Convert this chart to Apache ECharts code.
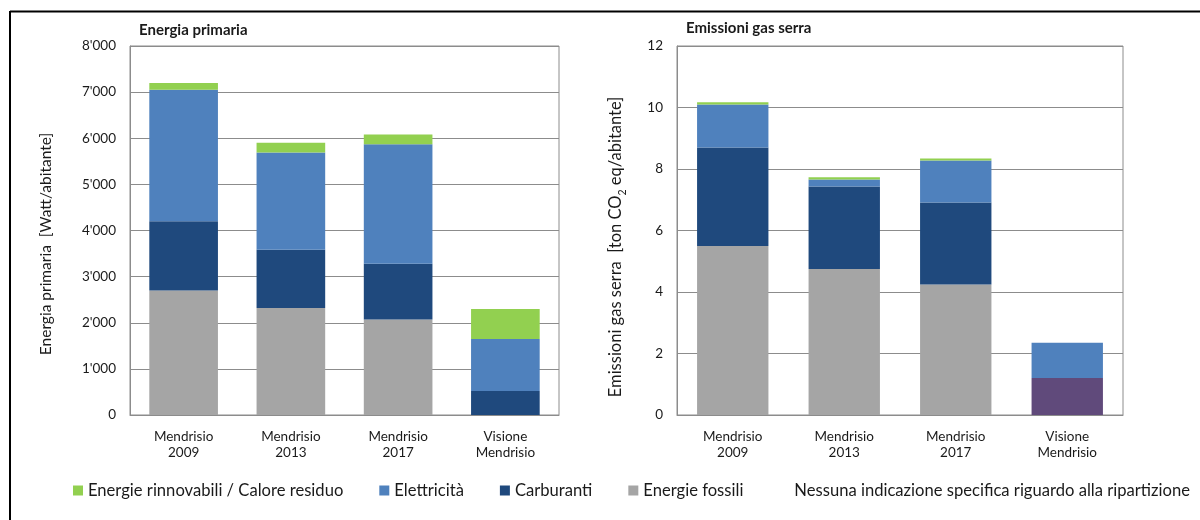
<!DOCTYPE html>
<html>
<head>
<meta charset="utf-8">
<script src="https://cdn.jsdelivr.net/npm/echarts@6/dist/echarts.min.js"></script>
<style>
  html, body { margin: 0; padding: 0; background: #fff; }
  #chart { width: 1200px; height: 520px; }
</style>
</head>
<body>
<div id="chart"></div>
<script>
// Categories shared by both panels
const categories = ['Mendrisio\n2009', 'Mendrisio\n2013', 'Mendrisio\n2017', 'Visione\nMendrisio'];

// Series names (legend order)
const nameRinnovabili = 'Energie rinnovabili / Calore residuo';
const nameElettricita = 'Elettricità';
const nameCarburanti = 'Carburanti';
const nameFossili = 'Energie fossili';
const nameNessuna = 'Nessuna indicazione specifica riguardo alla ripartizione';

// Energia primaria [Watt/abitante]
const energiaFossili      = [2700, 2320, 2070, null];
const energiaCarburanti   = [1500, 1260, 1210, 520];
const energiaElettricita  = [2850, 2110, 2590, 1130];
const energiaRinnovabili  = [150, 210, 210, 650];

// Emissioni gas serra [ton CO2 eq/abitante]
const emissioniNessuna      = [null, null, null, 1.2];
const emissioniFossili      = [5.5, 4.75, 4.24, null];
const emissioniCarburanti   = [3.2, 2.68, 2.67, null];
const emissioniElettricita  = [1.4, 0.23, 1.37, 1.15];
const emissioniRinnovabili  = [0.07, 0.07, 0.06, null];

// Axis ticks
const energiaTicks = { min: 0, max: 8000, interval: 1000 };
const emissioniTicks = { min: 0, max: 12, interval: 2 };

const colors = {
  rinnovabili: '#92D050',
  elettricita: '#4F81BD',
  carburanti: '#1F497D',
  fossili: '#A5A5A5',
  nessuna: '#604A7B'
};

const FONT = 'Lato, "Liberation Sans", sans-serif';
const TEXT = '#1a1a1a';
const GRIDLINE = '#8c8c8c';

function thousands(v) {
  return String(v).replace(/\B(?=(\d{3})+(?!\d))/g, "'");
}

function bar(name, data, color, idx, stack) {
  return {
    name: name,
    type: 'bar',
    stack: stack,
    xAxisIndex: idx,
    yAxisIndex: idx,
    data: data,
    barWidth: '64%',
    itemStyle: { color: color },
    emphasis: { disabled: true }
  };
}

function xAxisFor(idx) {
  return {
    type: 'category',
    gridIndex: idx,
    data: categories,
    axisTick: { show: false },
    axisLine: { lineStyle: { color: GRIDLINE, width: 1 } },
    axisLabel: { color: TEXT, fontFamily: FONT, fontSize: 13.5, lineHeight: 16, margin: 14 }
  };
}

function yAxisFor(idx, ticks, name, rich, formatter, nameGap, shift, nameSize) {
  return {
    type: 'value',
    gridIndex: idx,
    min: ticks.min,
    max: ticks.max,
    interval: ticks.interval,
    name: name,
    nameLocation: 'middle',
    nameGap: nameGap,
    nameTextStyle: { color: TEXT, fontFamily: FONT, fontSize: nameSize, rich: rich, padding: [0, 0, 0, shift] },
    axisLine: { show: true, lineStyle: { color: GRIDLINE, width: 1 } },
    axisTick: { show: false },
    splitLine: { lineStyle: { color: GRIDLINE, width: 1 } },
    axisLabel: { color: TEXT, fontFamily: FONT, fontSize: 13.5, margin: 14, formatter: formatter }
  };
}

const chart = echarts.init(document.getElementById('chart'));

chart.setOption({
  animation: false,
  backgroundColor: '#ffffff',
  textStyle: { fontFamily: FONT },
  title: [
    { text: 'Energia primaria', left: 134, top: 18, textStyle: { fontFamily: FONT, fontSize: 15, fontWeight: 'bold', color: TEXT } },
    { text: 'Emissioni gas serra', left: 681, top: 16, textStyle: { fontFamily: FONT, fontSize: 15, fontWeight: 'bold', color: TEXT } }
  ],
  legend: {
    left: 68,
    top: 477,
    width: 1150,
    itemWidth: 10,
    itemHeight: 10,
    itemGap: 36,
    textStyle: { fontFamily: FONT, fontSize: 16.6, color: TEXT },
    selectedMode: false,
    data: [
      { name: nameRinnovabili, icon: 'rect' },
      { name: nameElettricita, icon: 'rect' },
      { name: nameCarburanti, icon: 'rect' },
      { name: nameFossili, icon: 'rect' },
      { name: nameNessuna, icon: 'rect', itemStyle: { color: 'rgba(0,0,0,0)' } }
    ]
  },
  grid: [
    { left: 130, right: 641, top: 46, bottom: 105, show: true, borderColor: GRIDLINE, borderWidth: 1 },
    { left: 677, right: 77, top: 46, bottom: 105, show: true, borderColor: GRIDLINE, borderWidth: 1 }
  ],
  xAxis: [xAxisFor(0), xAxisFor(1)],
  yAxis: [
    yAxisFor(0, energiaTicks, 'Energia primaria  [Watt/abitante]', {}, thousands, 76, -27, 15.5),
    yAxisFor(1, emissioniTicks, 'Emissioni gas serra  [ton CO{sub|2} eq/abitante]',
      { sub: { fontFamily: FONT, fontSize: 10.5, color: TEXT, verticalAlign: 'bottom', padding: [0, 0, -4, 0] } },
      function (v) { return String(v); }, 53, -33, 16.5)
  ],
  series: [
    bar(nameFossili, energiaFossili, colors.fossili, 0, 'e'),
    bar(nameCarburanti, energiaCarburanti, colors.carburanti, 0, 'e'),
    bar(nameElettricita, energiaElettricita, colors.elettricita, 0, 'e'),
    bar(nameRinnovabili, energiaRinnovabili, colors.rinnovabili, 0, 'e'),
    bar(nameNessuna, emissioniNessuna, colors.nessuna, 1, 'g'),
    bar(nameFossili, emissioniFossili, colors.fossili, 1, 'g'),
    bar(nameCarburanti, emissioniCarburanti, colors.carburanti, 1, 'g'),
    bar(nameElettricita, emissioniElettricita, colors.elettricita, 1, 'g'),
    bar(nameRinnovabili, emissioniRinnovabili, colors.rinnovabili, 1, 'g')
  ],
  graphic: [
    // outer frame: top and left rules
    { type: 'line', shape: { x1: 10, y1: 11.5, x2: 1200, y2: 11.5 }, style: { stroke: '#000', lineWidth: 2 }, silent: true },
    { type: 'line', shape: { x1: 10, y1: 11, x2: 10, y2: 520 }, style: { stroke: '#000', lineWidth: 2 }, silent: true }
  ]
});
</script>
</body>
</html>
